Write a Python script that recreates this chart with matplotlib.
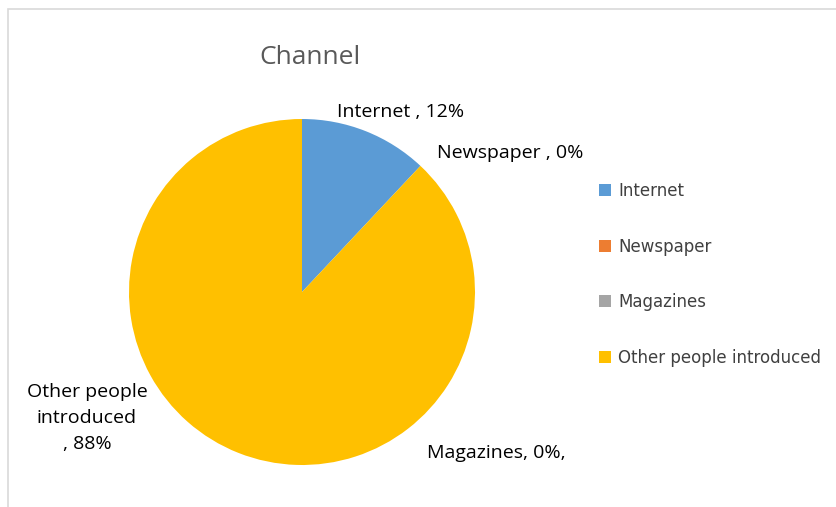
import matplotlib
matplotlib.use("Agg")
import matplotlib.pyplot as plt
from matplotlib.patches import Patch, Rectangle

channels = ["Internet", "Newspaper", "Magazines", "Other people introduced"]
shares = [12, 0, 0, 88]
colors = ["#5B9BD5", "#ED7D31", "#A5A5A5", "#FFC000"]
label_texts = ["Internet , 12%", "Newspaper , 0%", "Magazines, 0%,",
               "Other people\nintroduced\n, 88%"]
label_pos = [(0.572, 1.040), (1.202, 0.803), (1.124, -0.931), (-1.243, -0.728)]

W, H = 836, 507
fig = plt.figure(figsize=(W / 100, H / 100), dpi=100)
fig.patch.set_facecolor("white")

# chart area border (only top and left edges are visible)
fig.add_artist(Rectangle((8 / W, -0.1), 1.2, (H - 9) / H + 0.1,
                         transform=fig.transFigure, fill=False,
                         edgecolor="#d9d9d9", linewidth=1.2))

cx, cy, r = 302, 292, 173
ax = fig.add_axes([(cx - r) / W, (H - cy - r) / H, 2 * r / W, 2 * r / H])
ax.pie(shares, colors=colors, startangle=90, counterclock=False, radius=1,
       wedgeprops=dict(linewidth=0))
ax.set_xlim(-1, 1)
ax.set_ylim(-1, 1)
ax.set_aspect("equal")
ax.axis("off")

for txt, (x, y) in zip(label_texts, label_pos):
    ax.text(x, y, txt, ha="center", va="center", fontsize=14,
            family="Open Sans", color="#000000", linespacing=1.55,
            clip_on=False)

fig.text(310 / W, 1 - 57 / H, "Channel", ha="center", va="center",
         fontsize=19, family="Open Sans", color="#595959")

handles = [Patch(facecolor=c, edgecolor="none") for c in colors]
fig.legend(handles, channels, loc="upper left",
           bbox_to_anchor=(599 / W, 1 - 182 / H), frameon=False,
           fontsize=12, labelcolor="#404040", handlelength=0.72,
           handleheight=0.72, handletextpad=0.45, labelspacing=2.25,
           borderpad=0, borderaxespad=0)

fig.savefig("out.png", dpi=100)
